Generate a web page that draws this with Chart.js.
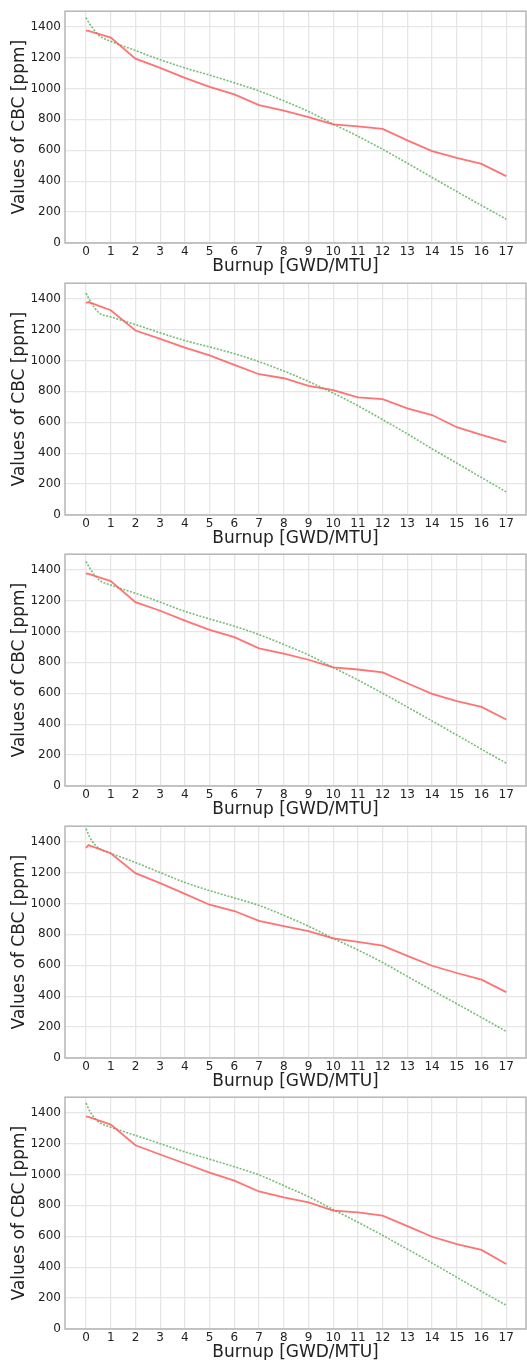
<!DOCTYPE html>
<html>
<head>
<meta charset="utf-8">
<script src="https://cdn.jsdelivr.net/npm/chart.js@4.4.1/dist/chart.umd.min.js"></script>
<style>
  html, body { margin: 0; padding: 0; background: #fff; }
  #wrap { position: relative; width: 527px; height: 1360px; overflow: hidden; }
  #wrap canvas { position: absolute; left: 0; }
</style>
</head>
<body>
<div id="wrap"></div>
<script>
// burnup steps (GWD/MTU)
const burnupRed = [0, 0.1, 1, 2, 3, 4, 5, 6, 7, 8, 9, 10, 11, 12, 13, 14, 15, 16, 17];
const burnupGreen = [0, 0.15, 0.35, 0.55, 1, 2, 3, 4, 5, 6, 7, 8, 9, 10, 11, 12, 13, 14, 15, 16, 17];

// red solid curve, one per panel
const red1 = [1374, 1372, 1329, 1193, 1133, 1069, 1010, 962, 892, 856, 815, 768, 755, 738, 664, 595, 551, 512, 433];
const red2 = [1372, 1378, 1325, 1194, 1140, 1083, 1033, 971, 911, 885, 836, 808, 761, 750, 690, 647, 568, 518, 471];
const red3 = [1375, 1373, 1326, 1190, 1134, 1070, 1010, 963, 891, 857, 817, 767, 754, 735, 665, 596, 550, 512, 430];
const red4 = [1360, 1378, 1325, 1196, 1132, 1062, 992, 951, 887, 853, 821, 774, 752, 727, 661, 597, 550, 507, 426];
const red5 = [1374, 1372, 1323, 1189, 1129, 1071, 1012, 960, 890, 851, 819, 766, 755, 734, 666, 597, 549, 512, 421];

// green dotted curve, one per panel
const green1 = [1458, 1417, 1374, 1340, 1305, 1246, 1186, 1133, 1086, 1037, 984, 920, 851, 770, 691, 606, 517, 424, 333, 243, 154];
const green2 = [1435, 1390, 1340, 1305, 1282, 1232, 1179, 1129, 1087, 1044, 992, 932, 864, 789, 707, 617, 525, 428, 336, 242, 150];
const green3 = [1454, 1410, 1365, 1330, 1300, 1247, 1190, 1130, 1081, 1034, 980, 916, 848, 767, 686, 600, 511, 421, 330, 238, 148];
const green4 = [1484, 1430, 1382, 1355, 1325, 1265, 1200, 1136, 1083, 1036, 987, 923, 853, 774, 699, 618, 528, 438, 351, 262, 172];
const green5 = [1462, 1410, 1365, 1335, 1306, 1253, 1199, 1146, 1099, 1050, 997, 928, 856, 773, 691, 606, 517, 427, 335, 243, 154];

const redSeries = [red1, red2, red3, red4, red5];
const greenSeries = [green1, green2, green3, green4, green5];

const xTicks = [0, 1, 2, 3, 4, 5, 6, 7, 8, 9, 10, 11, 12, 13, 14, 15, 16, 17];
const yTicks = [0, 200, 400, 600, 800, 1000, 1200, 1400];

const xTitle = 'Burnup [GWD/MTU]';
const yTitle = 'Values of CBC [ppm]';

const toPoints = (xs, ys) => xs.map((x, i) => ({ x: x, y: ys[i] }));

// thin grey frame round the plot area
const framePlugin = {
    id: 'frame',
    afterDatasetsDraw(chart) {
        const a = chart.chartArea;
        const ctx = chart.ctx;
        ctx.save();
        ctx.strokeStyle = '#b5b5b5';
        ctx.lineWidth = 1.5;
        ctx.strokeRect(a.left, a.top, a.right - a.left, a.bottom - a.top);
        ctx.restore();
    }
};

Chart.defaults.font.family = "'DejaVu Sans', sans-serif";
Chart.defaults.color = '#222';

const wrap = document.getElementById('wrap');

redSeries.forEach((reds, i) => {
    const canvas = document.createElement('canvas');
    canvas.width = 527;
    canvas.height = 280;
    canvas.style.top = Math.round(i * 271.5) + 'px';
    wrap.appendChild(canvas);

    new Chart(canvas.getContext('2d'), {
        type: 'line',
        data: {
            datasets: [{
                data: toPoints(burnupRed, reds),
                borderColor: 'rgba(255, 90, 90, 0.85)',
                borderWidth: 1.8,
                pointRadius: 0,
                tension: 0,
                fill: false
            }, {
                data: toPoints(burnupGreen, greenSeries[i]),
                borderColor: 'rgba(95, 178, 95, 0.85)',
                borderWidth: 1.6,
                borderDash: [2, 1.5],
                pointRadius: 0,
                cubicInterpolationMode: 'monotone',
                fill: false
            }]
        },
        options: {
            responsive: false,
            animation: false,
            events: [],
            layout: { padding: { top: 9, right: 1, bottom: 0, left: 0 } },
            plugins: { legend: { display: false }, tooltip: { enabled: false } },
            scales: {
                x: {
                    type: 'linear',
                    min: -0.85,
                    max: 17.8,
                    afterBuildTicks: (s) => { s.ticks = xTicks.map(v => ({ value: v })); },
                    afterFit: (s) => { s.height = 37; },
                    grid: { color: '#e6e6e6', lineWidth: 1.3, drawTicks: false },
                    border: { display: false },
                    ticks: { padding: 2, font: { size: 12 }, autoSkip: false, maxRotation: 0, callback: (v) => String(v) },
                    title: { display: true, text: xTitle, font: { size: 17 }, padding: { top: 0, bottom: 3 } }
                },
                y: {
                    type: 'linear',
                    min: 0,
                    max: 1500,
                    afterBuildTicks: (s) => { s.ticks = yTicks.map(v => ({ value: v })); },
                    afterFit: (s) => { s.width = 65; },
                    grid: { color: '#e6e6e6', lineWidth: 1.3, drawTicks: false },
                    border: { display: false },
                    ticks: { padding: 4, font: { size: 12 }, callback: (v) => String(v) },
                    title: { display: true, text: yTitle, font: { size: 17 }, padding: { top: 9, bottom: 0 } }
                }
            }
        },
        plugins: [framePlugin]
    });
});
</script>
</body>
</html>
